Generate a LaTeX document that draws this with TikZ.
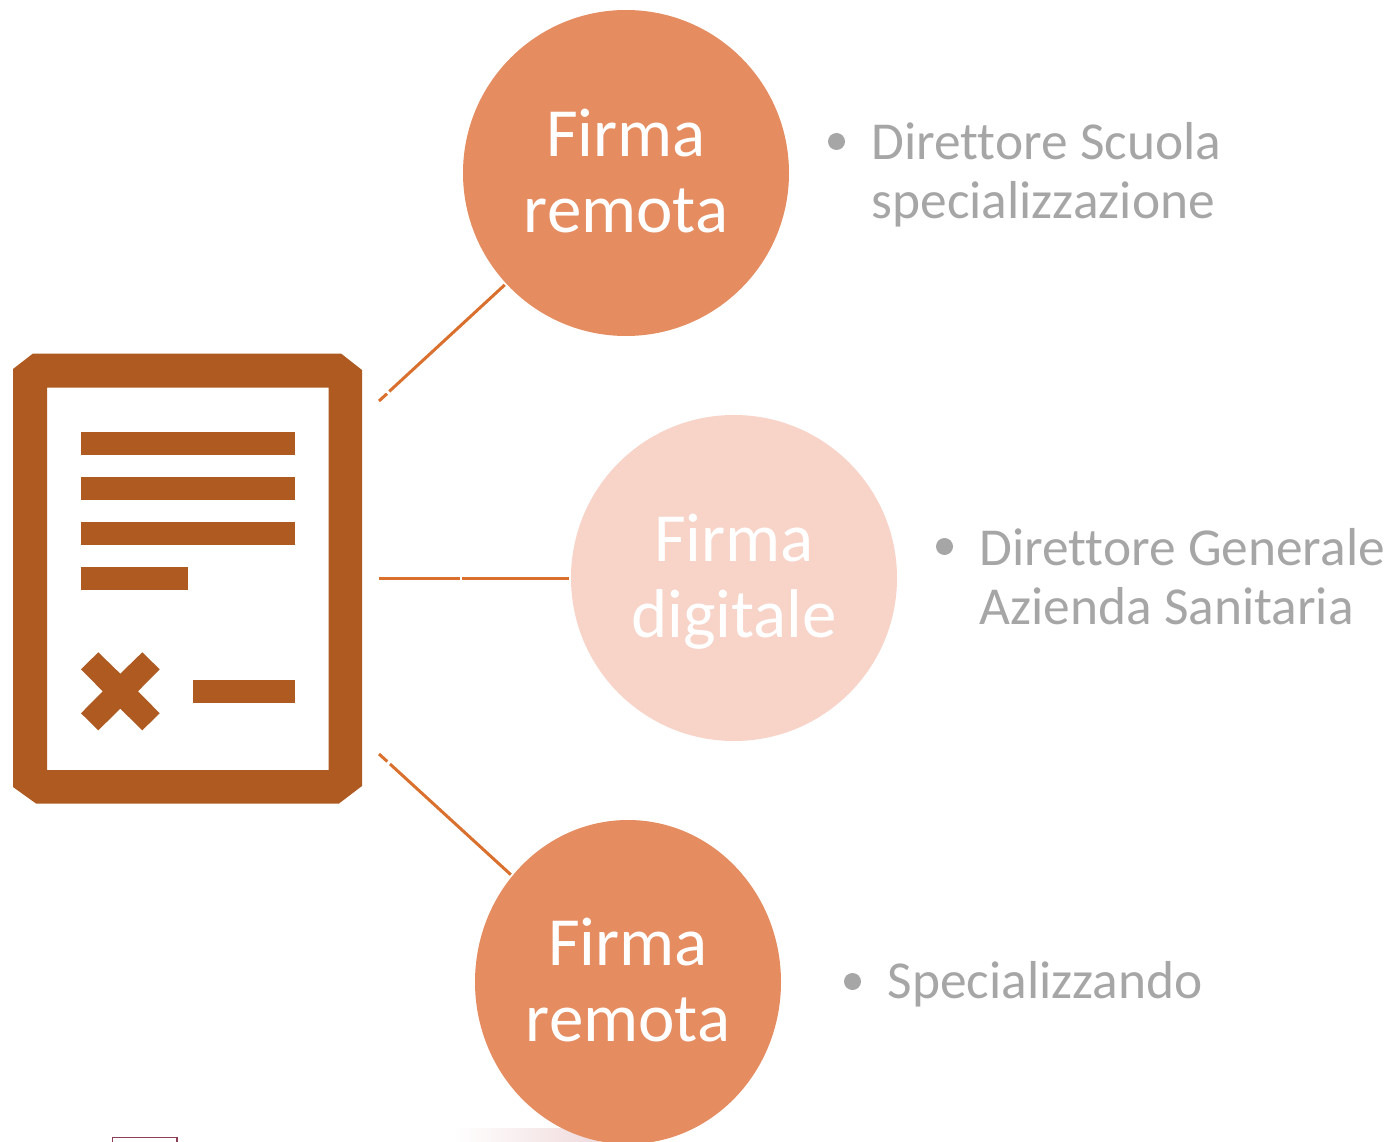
\documentclass[tikz,border=0pt]{standalone}
\usepackage{fontspec}
\setmainfont[Ligatures=NoCommon]{Carlito}
\usetikzlibrary{shapes.geometric}
\definecolor{orangefill}{HTML}{E58C61}
\definecolor{palefill}{HTML}{F7D3C8}
\definecolor{linkcol}{HTML}{D9702D}
\definecolor{iconcol}{HTML}{AE5A21}
\definecolor{greytxt}{HTML}{A6A6A6}
\definecolor{scrapred}{HTML}{8E3F55}
\definecolor{scrappink}{HTML}{F0DADC}
\newcommand{\lastline}[1]{\raisebox{0pt}[\height][4pt]{#1}}
\tikzset{
  x=1pt,y=-1pt,
  bubble/.style={circle,minimum size=326pt,inner sep=0pt,outer sep=2pt,text=white,align=center,
    font=\fontsize{69}{76}\selectfont},
  bubbleoval/.style={ellipse,minimum width=306pt,minimum height=324pt,inner sep=0pt,outer sep=2pt,
    text=white,align=center,font=\fontsize{69}{76}\selectfont},
  note/.style={anchor=base west,inner sep=0pt,outer sep=0pt,text=greytxt,align=left,
    font=\fontsize{53.4}{59}\selectfont},
  dot/.style={circle,fill=greytxt,minimum size=17pt,inner sep=0pt},
  link/.style={draw=linkcol,line width=3pt},
  bar/.style={fill=iconcol,draw=none}
}
\begin{document}
\begin{tikzpicture}
\useasboundingbox (0,0) rectangle (1393,1142);
% faint scraps along the bottom edge
\shade[left color=white,right color=scrappink,draw=none] (455,1128) rectangle (600,1142);
\draw[scrapred,line width=1.5pt] (112.5,1142) -- (112.5,1137.5) -- (177,1137.5) -- (177,1142);
% document icon
\fill[iconcol,even odd rule]
  (33,353.5) -- (341,353.5) -- (362,370) -- (362,786) -- (339,803.5) -- (36,803.5) -- (13,787) -- (13,369) -- cycle
  (47,387.5) rectangle (328.5,770);
\fill[bar] (81,432) rectangle (295,455);
\fill[bar] (81,477) rectangle (295,500);
\fill[bar] (81,522) rectangle (295,545);
\fill[bar] (81,567) rectangle (188,590);
\fill[bar] (193,680) rectangle (295,703);
\fill[bar] (81,669.3) -- (98.3,652.3) -- (120.3,673.7) -- (142.3,652.3) -- (159.7,669.3) -- (138,691.3)
  -- (159.7,713.3) -- (142.3,730.3) -- (120.3,708.7) -- (98.3,730.3) -- (81,713.3) -- (102.7,691.3) -- cycle;
% bubbles
\node[bubble,fill=orangefill] (top) at (626,173) {Firma\\\lastline{remota}};
\node[bubble,fill=palefill] (mid) at (734,578) {Firma\\\lastline{digitale}};
\node[bubbleoval,fill=orangefill] (bot) at (628,982) {Firma\\\lastline{remota}};
% connectors
\coordinate (topA) at (379,401);
\coordinate (topB) at (387,393.7);
\coordinate (topC) at (389.3,391.4);
\coordinate (midA) at (379,578);
\coordinate (midB) at (459.5,578);
\coordinate (midC) at (462,578);
\coordinate (botA) at (379,754);
\coordinate (botB) at (387.3,761.5);
\coordinate (botC) at (390,764);
\draw[link] (topA) -- (topB);
\draw[link] (topC) -- (top);
\draw[link] (midA) -- (midB);
\draw[link] (midC) -- (mid);
\draw[link] (botA) -- (botB);
\draw[link] (botC) -- (bot);
% notes
\node[dot] (d1) at (836.5,141.5) {};
\node[note] (n1) at (871.5,219) {Direttore Scuola\\specializzazione};
\node[dot] (d2) at (944.5,546.5) {};
\node[note] (n2) at (979.5,624) {Direttore Generale\\Azienda Sanitaria};
\node[dot] (d3) at (852.5,981.5) {};
\node[note] (n3) at (887.5,998) {Specializzando};
\end{tikzpicture}
\end{document}
